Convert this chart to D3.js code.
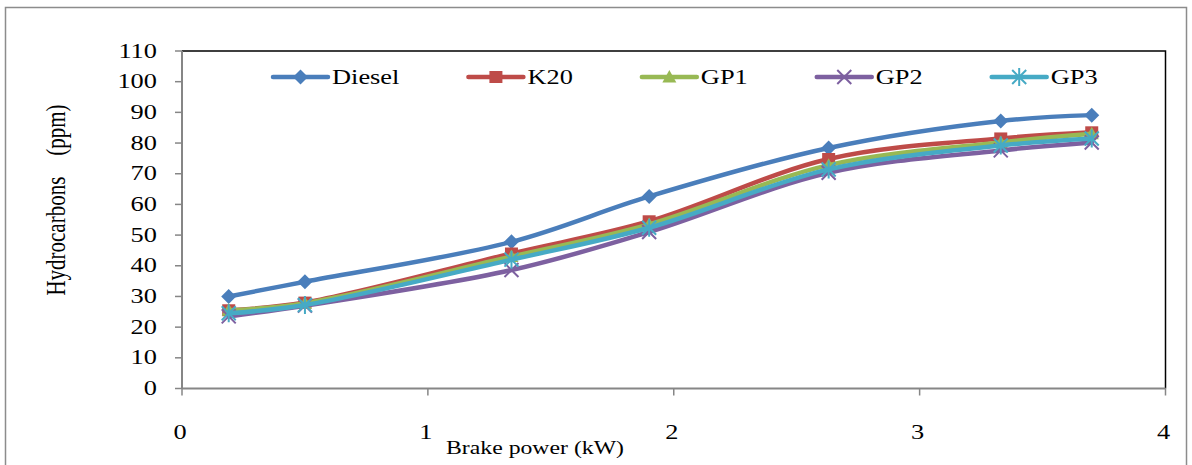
<!DOCTYPE html>
<html>
<head>
<meta charset="utf-8">
<script src="https://cdn.jsdelivr.net/npm/d3@7"></script>
<style>
  body { margin: 0; background: #fff; }
  text { font-family: "Liberation Serif", "Times New Roman", serif; fill: #000; }
</style>
</head>
<body>
<div id="chart"></div>
<script>
// brake power (kW)
var power = [0.19, 0.5, 1.34, 1.9, 2.63, 3.33, 3.7];
// hydrocarbons (ppm)
var diesel = [30, 34.8, 47.8, 62.6, 78.4, 87.2, 89.1];
var k20 = [25.5, 28, 44, 54.5, 74.8, 81.5, 83.5];
var gp1 = [25.5, 27.8, 43, 53.5, 72.8, 80.2, 83];
var gp2 = [23.5, 27, 38.6, 51, 70.3, 77.6, 80.2];
var gp3 = [24.5, 27.2, 42, 52.4, 71.4, 79.2, 81.5];
var seriesNames = ["Diesel", "K20", "GP1", "GP2", "GP3"];
var yTicks = [0, 10, 20, 30, 40, 50, 60, 70, 80, 90, 100, 110];
var xTicks = [0, 1, 2, 3, 4];

var W = 1192, H = 465;
var sx = 1.32; // text in the picture is stretched sideways
var colors = ["#4a7ebb", "#be4b48", "#98b954", "#7d60a0", "#46aac5"];
var shapes = ["diamond", "square", "triangle", "x", "star"];
var values = [diesel, k20, gp1, gp2, gp3];

var svg = d3.select("#chart").append("svg")
    .attr("width", W).attr("height", H);

// outer frame
svg.append("rect")
    .attr("x", 5.5).attr("y", 7.5)
    .attr("width", 1181).attr("height", 470)
    .attr("fill", "none").attr("stroke", "#8c8c8c").attr("stroke-width", 1.5);

var x = d3.scaleLinear().domain([0, 4]).range([182, 1165.5]);
var y = d3.scaleLinear().domain([0, 110]).range([388.5, 51]);

// plot border (top/right black)
svg.append("path")
    .attr("d", "M" + x(0) + "," + y(110) + "H" + x(4) + "V" + y(0))
    .attr("fill", "none").attr("stroke", "#000").attr("stroke-width", 1.5);

// y axis
svg.append("line")
    .attr("x1", x(0)).attr("x2", x(0)).attr("y1", y(0)).attr("y2", y(110))
    .attr("stroke", "#868686").attr("stroke-width", 2);
svg.selectAll(".yt").data(yTicks).enter().append("line")
    .attr("x1", x(0) - 7).attr("x2", x(0))
    .attr("y1", d => y(d)).attr("y2", d => y(d))
    .attr("stroke", "#868686").attr("stroke-width", 1.5);
svg.selectAll(".yl").data(yTicks).enter().append("text")
    .attr("transform", d => "translate(157," + (y(d) + 6.5) + ") scale(" + sx + ",1)")
    .attr("text-anchor", "end")
    .style("font-size", "20px")
    .text(d => d);

// x axis
svg.append("line")
    .attr("x1", x(0)).attr("x2", x(4)).attr("y1", y(0)).attr("y2", y(0))
    .attr("stroke", "#868686").attr("stroke-width", 2);
svg.selectAll(".xt").data(xTicks).enter().append("line")
    .attr("x1", d => x(d)).attr("x2", d => x(d))
    .attr("y1", y(0)).attr("y2", y(0) + 7)
    .attr("stroke", "#868686").attr("stroke-width", 1.5);
svg.selectAll(".xl").data(xTicks).enter().append("text")
    .attr("transform", d => "translate(" + (x(d) - 2) + ",439) scale(" + sx + ",1)")
    .attr("text-anchor", "middle")
    .style("font-size", "20px")
    .text(d => d);

// axis titles
svg.append("text")
    .attr("transform", "translate(535,454) scale(" + sx + ",1)")
    .attr("text-anchor", "middle")
    .style("font-size", "18px")
    .text("Brake power (kW)");
svg.append("text")
    .attr("transform", "translate(65,200) rotate(-90) scale(1," + sx + ")")
    .attr("text-anchor", "middle")
    .style("font-size", "21px")
    .attr("xml:space", "preserve")
    .style("white-space", "pre")
    .text("Hydrocarbons    (ppm)");

function marker(g, shape, color) {
    if (shape === "diamond") {
        g.append("path").attr("d", "M0,-7.5L7.5,0L0,7.5L-7.5,0Z").attr("fill", color);
    } else if (shape === "square") {
        g.append("rect").attr("x", -6.5).attr("y", -6).attr("width", 13).attr("height", 12).attr("fill", color);
    } else if (shape === "triangle") {
        g.append("path").attr("d", "M0,-7L7,5.5L-7,5.5Z").attr("fill", color);
    } else if (shape === "x") {
        g.append("path").attr("d", "M-7,-7L7,7M-7,7L7,-7").attr("stroke", color).attr("stroke-width", 2);
    } else {
        g.append("path").attr("d", "M-7,-7L7,7M-7,7L7,-7M0,-9V9")
            .attr("stroke", color).attr("stroke-width", 2);
    }
}

var line = d3.line()
    .x((d, i) => x(power[i]))
    .y(d => y(d))
    .curve(d3.curveCatmullRom.alpha(0.5));

values.forEach(function (vals, k) {
    svg.append("path")
        .datum(vals)
        .attr("d", line)
        .attr("fill", "none")
        .attr("stroke", colors[k])
        .attr("stroke-width", 4.5)
        .attr("stroke-linecap", "round");
    vals.forEach(function (v, i) {
        var g = svg.append("g").attr("transform", "translate(" + x(power[i]) + "," + y(v) + ")");
        marker(g, shapes[k], colors[k]);
    });
});

// legend
var lx = 273, ly = 77;
seriesNames.forEach(function (name, k) {
    var g = svg.append("g").attr("transform", "translate(" + lx + "," + ly + ")");
    g.append("line").attr("x1", 0).attr("x2", 55).attr("y1", 0).attr("y2", 0)
        .attr("stroke", colors[k]).attr("stroke-width", 4.5).attr("stroke-linecap", "round");
    var m = g.append("g").attr("transform", "translate(27.5,0)");
    marker(m, shapes[k], colors[k]);
    var t = g.append("text")
        .attr("transform", "translate(59,7) scale(" + sx + ",1)")
        .style("font-size", "20px")
        .text(name);
    lx += 59 + t.node().getComputedTextLength() * sx + 69;
});
</script>
</body>
</html>
